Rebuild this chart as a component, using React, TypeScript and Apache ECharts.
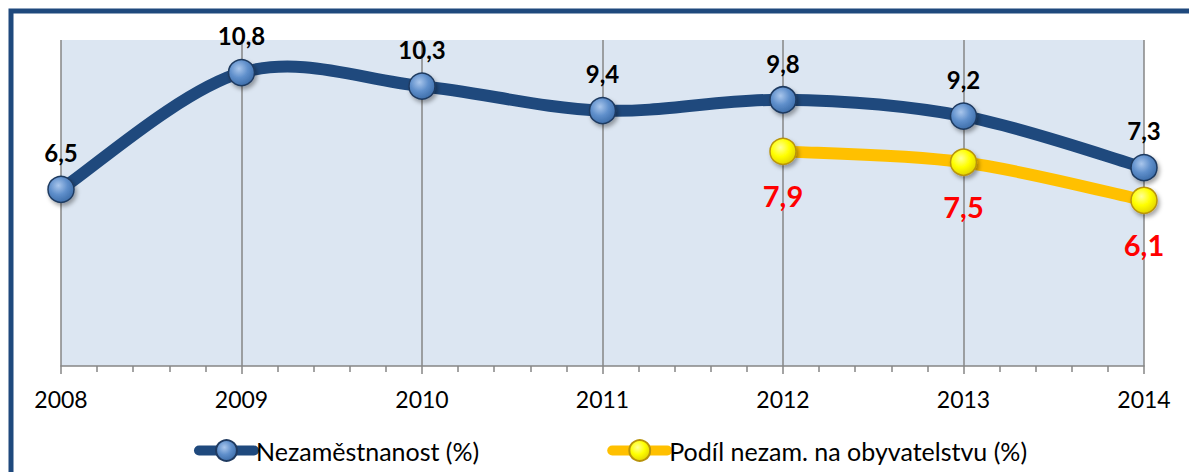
import React, { useEffect, useRef } from "react";
import * as echarts from "echarts";

const years = [2008, 2009, 2010, 2011, 2012, 2013, 2014];
const unemployment = [6.5, 10.8, 10.3, 9.4, 9.8, 9.2, 7.3];
const shareOfPopulation: (number | null)[] = [null, null, null, null, 7.9, 7.5, 6.1];
const seriesNames = ["Nezaměstnanost (%)", "Podíl nezam. na obyvatelstvu (%)"];
const lineColors = ["#1f497d", "#ffc000"];

const FONT = "Lato, 'Noto Sans', sans-serif";

function fmt(v: number) {
  return v.toFixed(1).replace(".", ",");
}

function pairs(vals: (number | null)[]) {
  return years
    .map((y, i) => [y, vals[i]] as [number, number | null])
    .filter((d) => d[1] !== null) as [number, number][];
}

// Excel-like (Catmull-Rom) smoothed path through pixel points
function smoothPath(pts: number[][]) {
  if (pts.length < 2) return "";
  let d = `M${pts[0][0]},${pts[0][1]}`;
  for (let i = 0; i < pts.length - 1; i++) {
    const p0 = pts[i - 1] || pts[i];
    const p1 = pts[i];
    const p2 = pts[i + 1];
    const p3 = pts[i + 2] || p2;
    const c1x = p1[0] + (p2[0] - p0[0]) / 6;
    const c1y = p1[1] + (p2[1] - p0[1]) / 6;
    const c2x = p2[0] - (p3[0] - p1[0]) / 6;
    const c2y = p2[1] - (p3[1] - p1[1]) / 6;
    d += ` C${c1x},${c1y} ${c2x},${c2y} ${p2[0]},${p2[1]}`;
  }
  return d;
}

function curveSeries(vals: (number | null)[], color: string, z: number) {
  const data = pairs(vals);
  return {
    type: "custom",
    coordinateSystem: "cartesian2d",
    silent: true,
    clip: false,
    z,
    data: [data[0]],
    renderItem: (_params: any, api: any) => {
      const pts = data.map((d) => api.coord(d));
      return {
        type: "path",
        shape: { pathData: smoothPath(pts) },
        style: {
          fill: "none",
          stroke: color,
          lineWidth: 12,
          lineCap: "round",
          lineJoin: "round",
        },
      };
    },
  };
}

export default function App() {
  const ref = useRef<HTMLDivElement>(null);
  useEffect(() => {
    if (!ref.current) return;
    const chart = echarts.init(ref.current, undefined, { renderer: "svg" });
    const blueGrad = new echarts.graphic.RadialGradient(0.4, 0.35, 0.7, [
      { offset: 0, color: "#a9c6ec" },
      { offset: 0.5, color: "#5f8fcb" },
      { offset: 1, color: "#3a6aa6" },
    ]);
    const yellowGrad = new echarts.graphic.RadialGradient(0.4, 0.35, 0.7, [
      { offset: 0, color: "#ffff99" },
      { offset: 0.5, color: "#ffff00" },
      { offset: 1, color: "#e0d000" },
    ]);
    const markerCommon = {
      type: "line",
      symbol: "circle",
      symbolSize: 26,
      showAllSymbol: true,
    };
    chart.setOption({
      animation: false,
      backgroundColor: "#ffffff",
      grid: {
        left: 61,
        right: 45,
        top: 40,
        bottom: 106,
        show: true,
        backgroundColor: "#dce6f2",
        borderWidth: 0,
      },
      xAxis: {
        type: "value",
        min: 2008,
        max: 2014,
        interval: 1,
        axisLine: { show: true, lineStyle: { color: "#868686", width: 1.5 } },
        axisTick: { show: true, length: 8, lineStyle: { color: "#868686", width: 1.5 } },
        minorTick: { show: true, splitNumber: 5, length: 6, lineStyle: { color: "#868686", width: 1.5 } },
        splitLine: { show: true, lineStyle: { color: "#868686", width: 1.5 } },
        axisLabel: {
          formatter: (v: number) => String(v),
          fontFamily: FONT,
          fontSize: 23,
          color: "#000000",
          margin: 21,
        },
      },
      yAxis: {
        type: "value",
        min: 0,
        max: 12,
        show: false,
        splitLine: { show: false },
      },
      legend: {
        left: 189,
        top: 433,
        itemWidth: 55,
        itemHeight: 26,
        itemGap: 128,
        textStyle: { fontFamily: FONT, fontSize: 25, color: "#000000", padding: [0, 0, 0, -3] },
        data: seriesNames.map((n, i) => ({
          name: n,
          lineStyle: { color: lineColors[i], width: 10, opacity: 1, cap: "round" },
        })),
      },
      series: [
        curveSeries(unemployment, lineColors[0], 2),
        curveSeries(shareOfPopulation, lineColors[1], 2),
        {
          ...markerCommon,
          name: seriesNames[0],
          data: pairs(unemployment),
          lineStyle: { color: lineColors[0], width: 0, opacity: 0 },
          itemStyle: {
            color: blueGrad,
            borderColor: "#1f3a60",
            borderWidth: 1.5,
            shadowBlur: 4,
            shadowColor: "rgba(0,0,0,0.35)",
            shadowOffsetX: 2,
            shadowOffsetY: 3,
          },
          label: {
            show: true,
            position: "top",
            distance: 11,
            formatter: (p: any) => fmt(p.value[1]),
            fontFamily: FONT,
            fontSize: 24,
            fontWeight: "bold",
            color: "#000000",
          },
          z: 4,
        },
        {
          ...markerCommon,
          name: seriesNames[1],
          data: pairs(shareOfPopulation),
          lineStyle: { color: lineColors[1], width: 0, opacity: 0 },
          itemStyle: {
            color: yellowGrad,
            borderColor: "#b8930a",
            borderWidth: 1.5,
            shadowBlur: 4,
            shadowColor: "rgba(0,0,0,0.35)",
            shadowOffsetX: 2,
            shadowOffsetY: 3,
          },
          label: {
            show: true,
            position: "bottom",
            distance: 16,
            formatter: (p: any) => fmt(p.value[1]),
            fontFamily: FONT,
            fontSize: 29,
            fontWeight: "bold",
            color: "#ff0000",
          },
          z: 5,
        },
      ],
      graphic: [
        {
          type: "polyline",
          shape: { points: [[11, 480], [11, 11], [1200, 11]] },
          style: { fill: "none", stroke: "#1f497d", lineWidth: 5 },
          silent: true,
          z: 100,
        },
      ],
    });
    return () => chart.dispose();
  }, []);
  return (
    <div
      ref={ref}
      style={{ position: "absolute", left: 0, top: 0, width: 1189, height: 472 }}
    />
  );
}
